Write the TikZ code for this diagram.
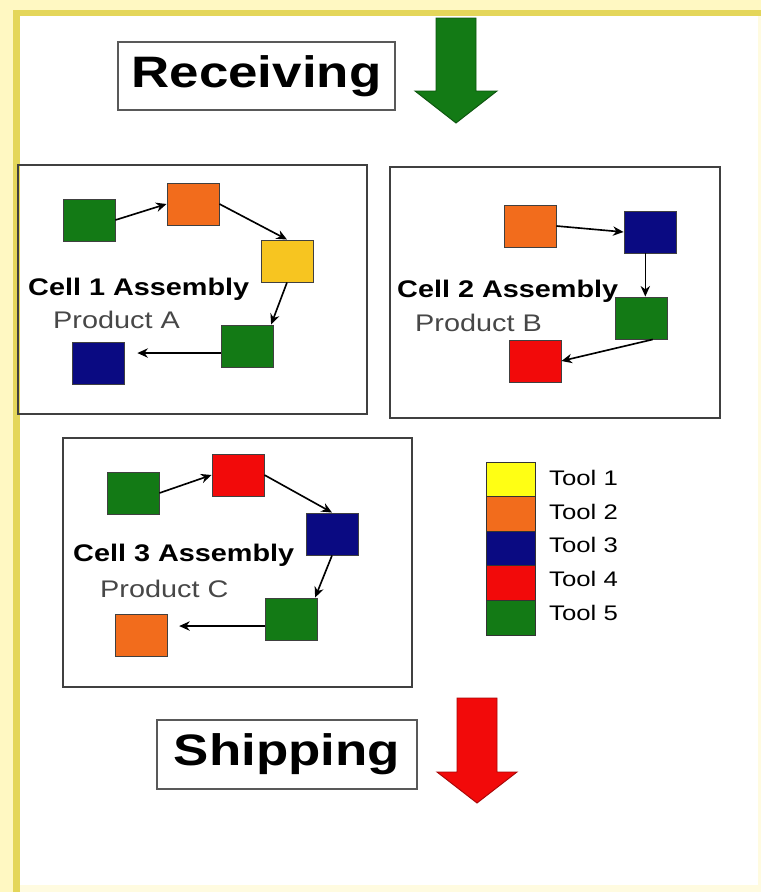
\documentclass[tikz,border=0pt]{standalone}
\usepackage{fontspec}
\usepackage{graphicx}
\setmainfont{Liberation Sans}
\usetikzlibrary{arrows.meta}
\definecolor{tgreen}{HTML}{137A15}
\definecolor{torange}{HTML}{F26C1C}
\definecolor{tgold}{HTML}{F7C520}
\definecolor{tyellow}{HTML}{FFFF14}
\definecolor{tnavy}{HTML}{0A0A82}
\definecolor{tred}{HTML}{F20A0A}
\definecolor{paleyellow}{HTML}{FFF8C2}
\definecolor{faintyellow}{HTML}{FFFBE0}
\definecolor{frameyellow}{HTML}{E4D65A}
\newcommand{\bigtxt}[1]{\scalebox{1.2}[1]{\fontsize{37.6}{40}\selectfont\bfseries #1}}
\newcommand{\celltxt}[1]{\scalebox{1.2}[1]{\fontsize{20.5}{22}\selectfont\bfseries #1}}
\newcommand{\prodtxt}[1]{\scalebox{1.2}[1]{\fontsize{20.5}{22}\selectfont #1}}
\newcommand{\tooltxt}[1]{\scalebox{1.22}[1]{\fontsize{18}{20}\selectfont #1}}
\begin{document}
\begin{tikzpicture}[x=0.03cm,y=-0.03cm,
  sq/.style={draw=black!75, line width=0.8pt, minimum width=1.56cm, minimum height=1.26cm, inner sep=0pt},
  cellbox/.style={draw=black!75, line width=1.2pt, inner sep=0pt},
  labelbox/.style={draw=black!65, line width=1.4pt, fill=white, inner sep=0pt},
  flow/.style={draw=black, line width=1.4pt, -{Stealth[length=9pt,width=8pt]}},
  legendbox/.style={draw=black!80, line width=0.8pt, minimum width=1.47cm, minimum height=1.038cm, inner sep=0pt},
  txt/.style={inner sep=0pt, anchor=west}
]
\useasboundingbox (0,0) rectangle (761,892);
% frame
\fill[faintyellow] (0,0) rectangle (761,892);
\fill[paleyellow] (0,0) rectangle (761,10);
\fill[paleyellow] (0,0) rectangle (13,892);
\fill[frameyellow] (13,10) rectangle (761,16);
\fill[frameyellow] (13,10) rectangle (20,892);
\fill[white] (20,16) rectangle (758,885);

% receiving
\node[labelbox, minimum width=8.31cm, minimum height=2.04cm] (recv) at (256.5,76) {\bigtxt{Receiving}};
\fill[tgreen, draw=tgreen!70!black, line width=0.8pt] (436,18) -- (476,18) -- (476,91) -- (497,91) -- (456,123) -- (415,91) -- (436,91) -- cycle;

% cell 1
\node[cellbox, minimum width=10.47cm, minimum height=7.47cm] (cell1) at (192.5,289.5) {};
\node[sq, fill=tgreen]  (c1a) at (89,220) {};
\node[sq, fill=torange] (c1b) at (193,204) {};
\node[sq, fill=tgold]   (c1c) at (287,261) {};
\node[sq, fill=tgreen]  (c1d) at (247,346) {};
\node[sq, fill=tnavy]   (c1e) at (98,363) {};
\draw[flow] (c1a.east) -- (c1b.west);
\draw[flow] (c1b.east) -- (c1c.north);
\draw[flow] (c1c.south) -- ([xshift=-2pt]c1d.north east);
\draw[flow, shorten >=11pt] ([yshift=-6pt]c1d.west) -- ([yshift=-6pt]c1d.west -| c1e.east);
\node[txt] (t1) at (28,289) {\celltxt{Cell 1 Assembly}};
\node[txt, text=black!72] (p1) at (53,320) {\prodtxt{Product A}};

% cell 2
\node[cellbox, minimum width=9.9cm, minimum height=7.53cm] (cell2) at (555,292.5) {};
\node[sq, fill=torange] (c2a) at (530,226) {};
\node[sq, fill=tnavy]   (c2b) at (650,232) {};
\node[sq, fill=tgreen]  (c2c) at (641,318) {};
\node[sq, fill=tred]    (c2d) at (535,361) {};
\draw[flow] (c2a.east) -- (c2b.west);
\draw[flow] ([xshift=-4pt]c2b.south) -- ([xshift=-4pt]c2b.south |- c2c.north);
\draw[flow] ([xshift=10pt]c2c.south) -- (c2d.east);
\node[txt] (t2) at (397,291) {\celltxt{Cell 2 Assembly}};
\node[txt, text=black!72] (p2) at (415,323) {\prodtxt{Product B}};

% cell 3
\node[cellbox, minimum width=10.47cm, minimum height=7.47cm] (cell3) at (237.5,562.5) {};
\node[sq, fill=tgreen]  (c3a) at (133,493) {};
\node[sq, fill=tred]    (c3b) at (238,475) {};
\node[sq, fill=tnavy]   (c3c) at (332,534) {};
\node[sq, fill=tgreen]  (c3d) at (291,619) {};
\node[sq, fill=torange] (c3e) at (141,635) {};
\draw[flow] (c3a.east) -- (c3b.west);
\draw[flow] (c3b.east) -- (c3c.north);
\draw[flow] (c3c.south) -- ([xshift=-2pt]c3d.north east);
\draw[flow, shorten >=10pt] ([yshift=-6pt]c3d.west) -- ([yshift=-6pt]c3d.west -| c3e.east);
\node[txt] (t3) at (73,555) {\celltxt{Cell 3 Assembly}};
\node[txt, text=black!72] (p3) at (100,589) {\prodtxt{Product C}};

% legend
\node[legendbox, fill=tyellow] (l1) at (510.5,479.3) {};
\node[legendbox, fill=torange] (l2) at (510.5,513.9) {};
\node[legendbox, fill=tnavy]   (l3) at (510.5,548.5) {};
\node[legendbox, fill=tred]    (l4) at (510.5,583.1) {};
\node[legendbox, fill=tgreen]  (l5) at (510.5,617.7) {};
\node[txt] (lt1) at (549,478) {\tooltxt{Tool 1}};
\node[txt] (lt2) at (549,512) {\tooltxt{Tool 2}};
\node[txt] (lt3) at (549,545) {\tooltxt{Tool 3}};
\node[txt] (lt4) at (549,579) {\tooltxt{Tool 4}};
\node[txt] (lt5) at (549,613) {\tooltxt{Tool 5}};

% shipping
\node[labelbox, minimum width=7.8cm, minimum height=2.07cm] (ship) at (287,754.5) {\bigtxt{Shipping}};
\fill[tred, draw=tred!70!black, line width=0.8pt] (457,698) -- (497,698) -- (497,772) -- (517,772) -- (477,803) -- (437,772) -- (457,772) -- cycle;
\end{tikzpicture}
\end{document}
